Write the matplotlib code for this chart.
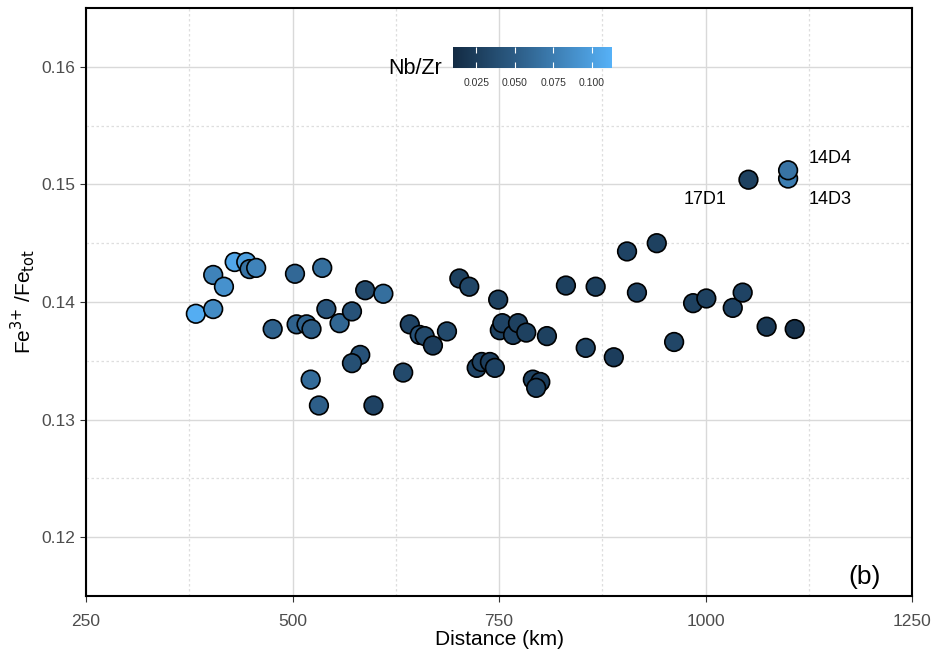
import numpy as np
import matplotlib
matplotlib.use("Agg")
import matplotlib.pyplot as plt
from matplotlib.colors import LinearSegmentedColormap, Normalize

plt.rcParams['font.family'] = ['Liberation Sans', 'DejaVu Sans']

# distance along the profile (km), Fe3+/Fetot and Nb/Zr for each sample
distance = [383, 404, 404, 417, 430, 444, 448, 456, 476, 503,
            505, 517, 523, 522, 536, 541, 532, 557, 572, 588,
            582, 572, 610, 598, 634, 642, 654, 660, 670, 687,
            702, 714, 749, 751, 754, 767, 773, 783, 808, 723,
            729, 739, 745, 791, 800, 795, 831, 867, 905, 917,
            855, 889, 941, 985, 1001, 1033, 1045, 962, 1074, 1108,
            1052, 1100, 1100]
fe_ratio = [0.1390, 0.1394, 0.1423, 0.1413, 0.1434, 0.1434, 0.1428, 0.1429, 0.1377, 0.1424,
            0.1381, 0.1381, 0.1377, 0.1334, 0.1429, 0.1394, 0.1312, 0.1382, 0.1392, 0.1410,
            0.1355, 0.1348, 0.1407, 0.1312, 0.1340, 0.1381, 0.1372, 0.1371, 0.1363, 0.1375,
            0.1420, 0.1413, 0.1402, 0.1376, 0.1382, 0.1372, 0.1382, 0.1374, 0.1371, 0.1344,
            0.1349, 0.1349, 0.1344, 0.1334, 0.1332, 0.1327, 0.1414, 0.1413, 0.1443, 0.1408,
            0.1361, 0.1353, 0.1450, 0.1399, 0.1403, 0.1395, 0.1408, 0.1366, 0.1379, 0.1377,
            0.1504, 0.1505, 0.1512]
nb_zr = [0.110, 0.085, 0.080, 0.090, 0.105, 0.100, 0.068, 0.080, 0.055, 0.060,
         0.055, 0.055, 0.050, 0.062, 0.065, 0.045, 0.052, 0.058, 0.042, 0.035,
         0.042, 0.040, 0.065, 0.030, 0.035, 0.030, 0.042, 0.035, 0.025, 0.035,
         0.028, 0.032, 0.028, 0.028, 0.030, 0.030, 0.028, 0.028, 0.028, 0.030,
         0.030, 0.025, 0.030, 0.028, 0.025, 0.030, 0.028, 0.028, 0.030, 0.030,
         0.032, 0.025, 0.028, 0.028, 0.028, 0.030, 0.030, 0.032, 0.022, 0.015,
         0.028, 0.075, 0.068]

sample_names = ["17D1", "14D3", "14D4"]
sample_x = [1052, 1100, 1100]
sample_y = [0.1504, 0.1505, 0.1512]

cmap = LinearSegmentedColormap.from_list("nbzr", ["#132B43", "#336A98", "#56B1F7"])
norm = Normalize(vmin=0.010, vmax=0.113)

fig = plt.figure(figsize=(9.38, 6.56), dpi=100)
ax = fig.add_axes([86/938, 1 - 596/656, 826/938, 588/656])

sc = ax.scatter(distance, fe_ratio, c=nb_zr, cmap=cmap, norm=norm, s=180,
                edgecolors="black", linewidths=1.2, zorder=3)

# sample labels next to the three highest points
ax.text(sample_x[0] - 26, sample_y[0] - 0.0017, sample_names[0], fontsize=13,
        ha="right", va="center")
ax.text(sample_x[1] + 25, sample_y[1] - 0.0018, sample_names[1], fontsize=13,
        ha="left", va="center")
ax.text(sample_x[2] + 25, sample_y[2] + 0.0010, sample_names[2], fontsize=13,
        ha="left", va="center")

ax.text(0.962, 0.012, "(b)", transform=ax.transAxes, fontsize=19, ha="right", va="bottom")

ax.set_xlim(250, 1250)
ax.set_ylim(0.115, 0.165)
ax.set_xticks([250, 500, 750, 1000, 1250])
ax.set_yticks([0.12, 0.13, 0.14, 0.15, 0.16])
ax.set_xticks([375, 625, 875, 1125], minor=True)
ax.set_yticks([0.125, 0.135, 0.145, 0.155], minor=True)
ax.grid(which="major", color="#d9d9d9", linewidth=1.0, zorder=0)
ax.grid(which="minor", color="#dedede", linewidth=0.9, linestyle=(0, (2, 2)), zorder=0)
ax.set_axisbelow(True)
ax.tick_params(which="major", labelsize=12.5, labelcolor="#4d4d4d", color="#333333",
               length=4, width=0.8)
ax.tick_params(axis="x", which="major", pad=9)
ax.tick_params(which="minor", length=0)
for sp in ax.spines.values():
    sp.set_linewidth(1.5)
    sp.set_color("black")

ax.set_xlabel("Distance (km)", fontsize=15, labelpad=1)
ax.set_ylabel(r"Fe$^{3{+}}$ /Fe$_{\mathrm{tot}}$", fontsize=15, labelpad=3)

# colour bar legend
cax = fig.add_axes([453/938, 1 - 68/656, 159/938, 21/656])
cb = fig.colorbar(sc, cax=cax, orientation="horizontal")
cb.outline.set_visible(False)
cb.set_ticks([0.025, 0.050, 0.075, 0.100])
cb.set_ticklabels(["0.025", "0.050", "0.075", "0.100"])
cax.tick_params(labelsize=7.5, colors="white", labelcolor="#333333", direction="in",
                length=4, width=0.8, top=True, bottom=True, pad=7)
fig.text(442/938, 1 - 69/656, "Nb/Zr", fontsize=15.5, ha="right", va="center")

fig.savefig("out.png", dpi=100)
